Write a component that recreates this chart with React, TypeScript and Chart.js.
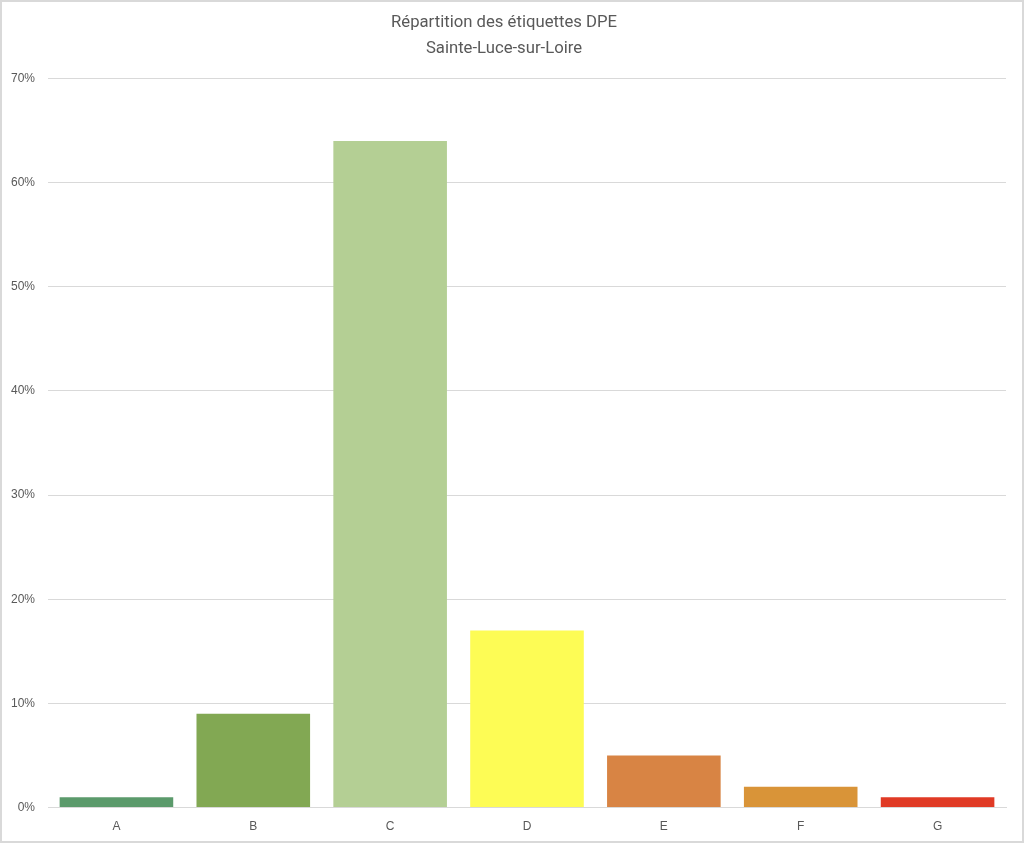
import React, { useEffect, useRef } from "react";
import { Chart, registerables } from "chart.js";

Chart.register(...registerables);

const categories = ["A", "B", "C", "D", "E", "F", "G"];
const shares = [0.01, 0.09, 0.64, 0.17, 0.05, 0.02, 0.01];
const barColors = ["#5b9a6b", "#82a853", "#b4cf94", "#fdfc55", "#d88444", "#d99438", "#e03a25"];
const titleLines = ["Répartition des étiquettes DPE", "Sainte-Luce-sur-Loire"];

export default function App() {
  const ref = useRef<HTMLCanvasElement>(null);
  useEffect(() => {
    document.body.style.margin = "0";
    const chart = new Chart(ref.current!, {
      type: "bar",
      data: {
        labels: categories,
        datasets: [
          {
            data: shares,
            backgroundColor: barColors,
            borderWidth: 0,
            barPercentage: 0.83,
            categoryPercentage: 1,
          },
        ],
      },
      options: {
        animation: false,
        responsive: false,
        layout: { padding: { left: 0, right: 16, top: 7, bottom: 3 } },
        plugins: {
          legend: { display: false },
          tooltip: { enabled: false },
          title: {
            display: true,
            text: titleLines,
            color: "#595959",
            font: { family: "Roboto", size: 16.7, weight: "normal", lineHeight: 1.6 },
            padding: { top: 0, bottom: 16 },
          },
        },
        scales: {
          x: {
            grid: { display: false },
            border: { color: "#d9d9d9", width: 1 },
            ticks: { color: "#595959", font: { family: "Liberation Sans", size: 12 }, padding: 4 },
          },
          y: {
            min: 0,
            max: 0.7,
            grid: { color: "#d9d9d9", drawTicks: false },
            border: { display: false },
            afterFit: (s: any) => {
              s.width = 46;
            },
            ticks: {
              stepSize: 0.1,
              color: "#595959",
              font: { family: "Liberation Sans", size: 12 },
              padding: 13,
              callback: (v: any) => Math.round(Number(v) * 100) + "%",
            },
          },
        },
      },
    });
    return () => chart.destroy();
  }, []);
  return (
    <div style={{ position: "fixed", left: 0, top: 0, width: 1024, height: 843, boxSizing: "border-box", border: "2px solid #d9d9d9", background: "#fff" }}>
      <canvas ref={ref} width={1020} height={839} style={{ display: "block" }} />
    </div>
  );
}
